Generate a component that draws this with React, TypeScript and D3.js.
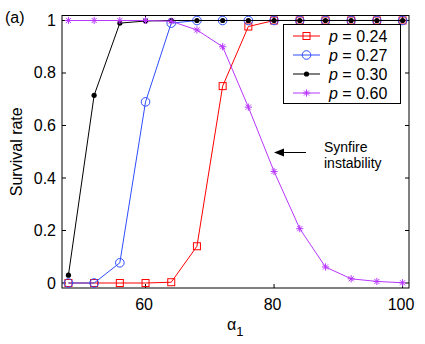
import React from "react";
import { scaleLinear, line } from "d3";

const alphas = [48, 52, 56, 60, 64, 68, 72, 76, 80, 84, 88, 92, 96, 100];
const p24 = [0, 0, 0, 0, 0.003, 0.14, 0.75, 0.977, 1, 1, 1, 1, 1, 1];
const p27 = [0, 0, 0.077, 0.69, 0.99, 1, 1, 1, 1, 1, 1, 1, 1, 1];
const p30 = [0.03, 0.715, 0.99, 0.998, 1, 1, 1, 1, 1, 1, 1, 1, 1, 1];
const p60 = [1, 1, 1, 1, 0.997, 0.964, 0.9, 0.67, 0.425, 0.207, 0.061, 0.016, 0.006, 0.001];
const xTicks = [60, 80, 100];
const yTicks = [0, 0.2, 0.4, 0.6, 0.8, 1];
const seriesNames = ["0.24", "0.27", "0.30", "0.60"];

const W = 425;
const H = 344;
const left = 62;
const right = 409;
const top = 15.5;
const bottom = 288;
const font = "Liberation Sans, Arial, sans-serif";

const x = scaleLinear().domain([47, 101]).range([left, right]);
const y = scaleLinear().domain([-0.019, 1.019]).range([bottom, top]);

const series = [
  { name: seriesNames[0], values: p24, color: "#ff0000", marker: "square" },
  { name: seriesNames[1], values: p27, color: "#2e4dff", marker: "circle" },
  { name: seriesNames[2], values: p30, color: "#000000", marker: "dot" },
  { name: seriesNames[3], values: p60, color: "#b836ff", marker: "star" },
];

function Marker({ type, cx, cy, color }: { type: string; cx: number; cy: number; color: string }) {
  if (type === "square")
    return <rect x={cx - 3.5} y={cy - 3.5} width={7} height={7} fill="none" stroke={color} strokeWidth={1} />;
  if (type === "circle") return <circle cx={cx} cy={cy} r={4.3} fill="none" stroke={color} strokeWidth={1} />;
  if (type === "dot") return <circle cx={cx} cy={cy} r={2.6} fill={color} />;
  const r = 3.6;
  return (
    <g stroke={color} strokeWidth={1}>
      <line x1={cx - r} y1={cy} x2={cx + r} y2={cy} />
      <line x1={cx} y1={cy - r} x2={cx} y2={cy + r} />
      <line x1={cx - r * 0.7} y1={cy - r * 0.7} x2={cx + r * 0.7} y2={cy + r * 0.7} />
      <line x1={cx - r * 0.7} y1={cy + r * 0.7} x2={cx + r * 0.7} y2={cy - r * 0.7} />
    </g>
  );
}

const App = () => {
  const path = line<number>()
    .x((_, i) => x(alphas[i]))
    .y((d) => y(d));

  const legX = 283.5;
  const legY = 24.5;
  const legW = 117;
  const legH = 79;

  return (
    <svg width={W} height={H} style={{ position: "absolute", left: 0, top: 0 }} fontFamily={font}>
      <rect width={W} height={H} fill="white" />
      {/* axes box */}
      <rect x={left} y={top} width={right - left} height={bottom - top} fill="none" stroke="#000" strokeWidth={1} />
      {xTicks.map((t) => (
        <g key={"x" + t}>
          <line x1={x(t)} x2={x(t)} y1={bottom} y2={bottom - 4} stroke="#000" />
          <line x1={x(t)} x2={x(t)} y1={top} y2={top + 4} stroke="#000" />
          <text x={x(t) - 1.5} y={310} textAnchor="middle" fontSize={16}>
            {t}
          </text>
        </g>
      ))}
      {yTicks.map((t) => (
        <g key={"y" + t}>
          <line x1={left} x2={left + 4} y1={y(t)} y2={y(t)} stroke="#000" />
          <line x1={right} x2={right - 4} y1={y(t)} y2={y(t)} stroke="#000" />
          <text x={left - 6} y={y(t) + 5.5} textAnchor="end" fontSize={16}>
            {t}
          </text>
        </g>
      ))}
      {series.map((s) => (
        <g key={s.name}>
          <path d={path(s.values) || ""} fill="none" stroke={s.color} strokeWidth={1} />
          {s.values.map((v, i) => (
            <Marker key={i} type={s.marker} cx={x(alphas[i])} cy={y(v)} color={s.color} />
          ))}
        </g>
      ))}
      {/* legend */}
      <rect x={legX} y={legY} width={legW} height={legH} fill="white" stroke="#000" strokeWidth={1} />
      {series.map((s, i) => {
        const ly = 36 + i * 19;
        return (
          <g key={"leg" + s.name}>
            <line x1={293} x2={320} y1={ly} y2={ly} stroke={s.color} />
            <Marker type={s.marker} cx={306.5} cy={ly} color={s.color} />
            <text x={329} y={ly + 6} fontSize={16}>
              <tspan fontStyle="italic">p</tspan> = {s.name}
            </text>
          </g>
        );
      })}
      {/* annotation */}
      <line x1={282} x2={306} y1={152.5} y2={152.5} stroke="#000" strokeWidth={1} />
      <path d="M274,152.5 L284,148.5 L284,156.5 Z" fill="#000" />
      <text x={324} y={152} fontSize={14}>
        Synfire
      </text>
      <text x={324} y={168} fontSize={14}>
        instability
      </text>
      {/* labels */}
      <text x={5} y={23} fontSize={16}>
        (a)
      </text>
      <text transform={`translate(22,${(top + bottom) / 2}) rotate(-90)`} textAnchor="middle" fontSize={16}>
        Survival rate
      </text>
      <text x={227} y={330} fontSize={16}>
        α<tspan fontSize={13} dy={6}>1</tspan>
      </text>
    </svg>
  );
};

export default App;
